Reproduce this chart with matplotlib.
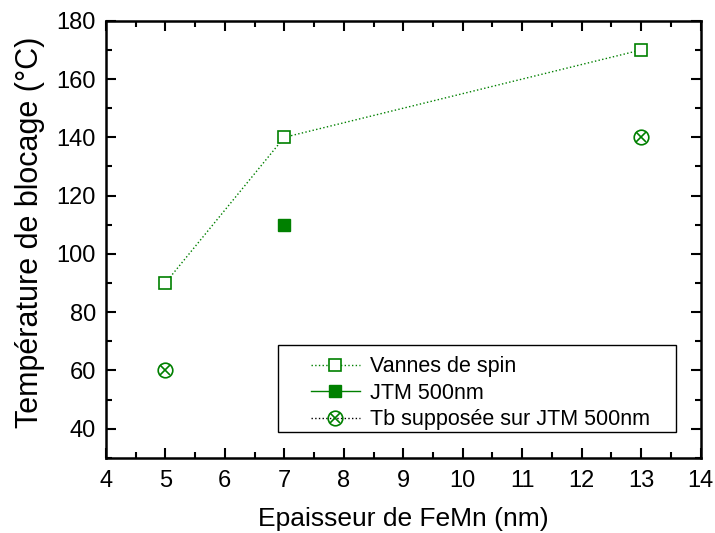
import matplotlib
matplotlib.use("Agg")
import matplotlib.pyplot as plt
from matplotlib.ticker import MultipleLocator
from matplotlib.patches import Rectangle

plt.rcParams['font.family'] = ['Liberation Sans', 'DejaVu Sans']

green = "#008000"

# Vannes de spin
vs_x = [5, 7, 13]
vs_y = [90, 140, 170]
# JTM 500nm
jtm_x = [7]
jtm_y = [110]
# Tb supposee sur JTM 500nm
tb_x = [5, 13]
tb_y = [60, 140]

fig = plt.figure(figsize=(7.15, 5.33), dpi=100)
ax = fig.add_axes([0.148, 0.141, 0.832, 0.820])

h1, = ax.plot(vs_x, vs_y, ls=':', lw=1, color=green, marker='s', ms=9,
              mfc='white', mec=green, mew=1.2)
h2, = ax.plot(jtm_x, jtm_y, ls='-', lw=1, color=green, marker='s', ms=9,
              mfc=green, mec=green)
ax.plot(tb_x, tb_y, ls='none', marker='o', ms=10.5,
        mfc='none', mec=green, mew=1.2)
ax.plot(tb_x, tb_y, ls='none', marker='x', ms=7.8,
        mec=green, mew=1.2)
# legend proxy for the crossed circle
h_o, = ax.plot([], [], ls=':', lw=1, color='black', marker='o', ms=10.5,
               mfc='none', mec=green, mew=1.2)
h_x, = ax.plot([], [], ls='none', marker='x', ms=7.8, mec=green, mew=1.2)

# legend box drawn by hand (wide side padding like the original)
ax.add_patch(Rectangle((0.289, 0.0595), 0.669, 0.199, transform=ax.transAxes,
                       fill=False, edgecolor='black', lw=1.0, zorder=5))
leg = ax.legend([h1, h2, (h_o, h_x)],
                ['Vannes de spin', 'JTM 500nm', 'Tb supposée sur JTM 500nm'],
                loc='upper left', bbox_to_anchor=(0.326, 0.257),
                fontsize=15.5, frameon=False, borderpad=0,
                handlelength=2.3, labelspacing=0.25, handletextpad=0.45)

ax.set_xlim(4, 14)
ax.set_ylim(30, 180)
ax.xaxis.set_major_locator(MultipleLocator(1))
ax.xaxis.set_minor_locator(MultipleLocator(0.5))
ax.yaxis.set_major_locator(MultipleLocator(20))
ax.yaxis.set_minor_locator(MultipleLocator(10))
ax.tick_params(which='both', direction='in', top=True, right=True,
               labelsize=17, width=1.5)
ax.tick_params(which='major', length=7)
ax.tick_params(which='minor', length=4)
ax.tick_params(axis='x', pad=9)
ax.tick_params(axis='y', pad=7)
for s in ax.spines.values():
    s.set_linewidth(1.8)

ax.set_xlabel("Epaisseur de FeMn (nm)", fontsize=19)
ax.set_ylabel("Température de blocage (°C)", fontsize=22)
ax.xaxis.set_label_coords(0.5, -0.112)
ax.yaxis.set_label_coords(-0.102, 0.515)

fig.savefig("out.png", dpi=100)
